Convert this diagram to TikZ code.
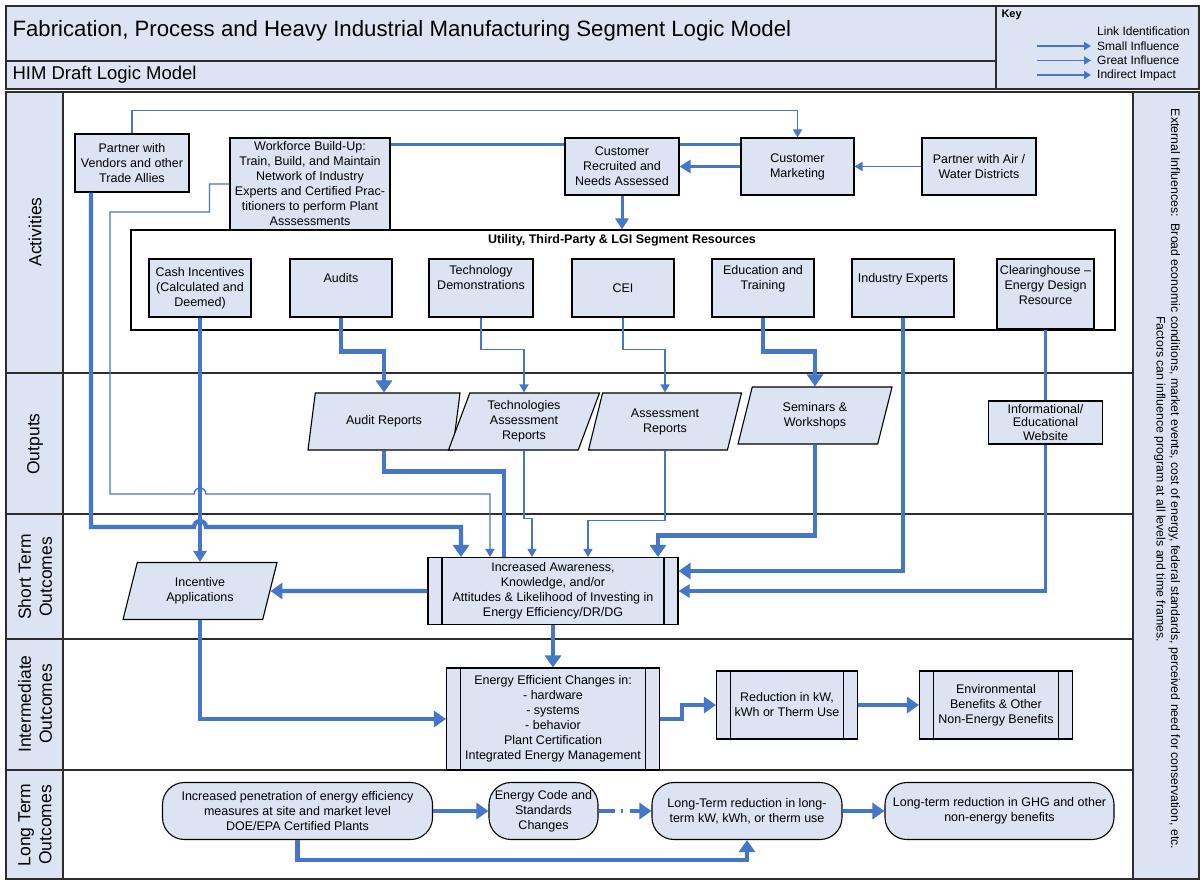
\documentclass[tikz,border=0pt]{standalone}
\usepackage{fontspec}
\setmainfont{Liberation Sans}
\usepackage{tikz}
\usetikzlibrary{shapes.geometric,arrows.meta,positioning,calc}
\definecolor{boxblue}{RGB}{220,227,242}
\definecolor{linkblue}{RGB}{70,118,200}
\definecolor{framegray}{RGB}{45,45,45}
\tikzstyle{block}=[rectangle, draw=black, line width=1.1pt, fill=boxblue, align=center, inner sep=2pt, font=\fontsize{12.5}{15}\selectfont]
\tikzstyle{upper}=[text depth=21pt]
\tikzstyle{process}=[block, path picture={\draw[black, line width=1.1pt] ([xshift=14pt]path picture bounding box.north west) -- ([xshift=14pt]path picture bounding box.south west) ([xshift=-14pt]path picture bounding box.north east) -- ([xshift=-14pt]path picture bounding box.south east);}]
\tikzstyle{output}=[block, trapezium, trapezium left angle=65, trapezium right angle=115, trapezium stretches body]
\tikzstyle{outcome}=[block, rounded corners=22pt]
\tikzstyle{smalllink}=[draw=linkblue, line width=1.4pt, -{Triangle[length=8pt,width=9pt]}]
\tikzstyle{midlink}=[draw=linkblue, line width=3pt, -{Triangle[length=11pt,width=13pt]}]
\tikzstyle{greatlink}=[draw=linkblue, line width=4.3pt, -{Triangle[length=12pt,width=16pt]}]
\tikzstyle{keyarrow}=[draw=linkblue, line width=1.8pt, -{Triangle[length=7pt,width=8pt]}]
\tikzstyle{keytext}=[anchor=west, inner xsep=6pt, inner ysep=1pt, font=\fontsize{12}{14}\selectfont]
\tikzstyle{rowlabel}=[rotate=90, align=center, font=\fontsize{17.5}{21}\selectfont]

\begin{document}
\begin{tikzpicture}[x=1pt, y=-1pt]
	\useasboundingbox (0,0) rectangle (1204,879);
	\draw[framegray, line width=1.4pt, fill=boxblue] (6,6) rectangle (996,61);
	\draw[framegray, line width=1.4pt, fill=boxblue] (6,61) rectangle (996,89);
	\draw[framegray, line width=1.4pt, fill=boxblue] (996,6) rectangle (1199,89);
	\draw[framegray, line width=1.1pt, fill=boxblue] (6,92) rectangle (63,879);
	\draw[framegray, line width=1.1pt, fill=white] (63,92) rectangle (1133,879);
	\draw[framegray, line width=1.1pt, fill=boxblue] (1133,92) rectangle (1199,879);
	\foreach \y in {373,514,639,770}
		\draw[framegray, line width=1.1pt] (6,\y) -- (1133,\y);
	\node[anchor=west, font=\fontsize{22.2}{26}\selectfont] (title) at (9,31) {Fabrication, Process and Heavy Industrial Manufacturing Segment Logic Model};
	\node[anchor=west, font=\fontsize{18.5}{22}\selectfont] (subtitle) at (9,75) {HIM Draft Logic Model};
	\node[anchor=west, font=\bfseries\fontsize{11}{13}\selectfont] (key) at (998,15) {Key};
	\node[keytext] (linkid) at (1091,31) {Link Identification};
	\node[keytext] (smallinf) at (1091,46) {Small Influence};
	\node[keytext] (greatinf) at (1091,60.5) {Great Influence};
	\node[keytext] (indirect) at (1091,75) {Indirect Impact};
	\coordinate (ksmall) at (1037,46);
	\coordinate (kgreat) at (1037,60.5);
	\coordinate (kindirect) at (1037,75);
	\node[rowlabel] (activities) at (35,232) {Activities};
	\node[rowlabel] (outputs) at (35,444) {Outputs};
	\node[rowlabel] (shortterm) at (35,577) {Short Term\\Outcomes};
	\node[rowlabel] (intermediate) at (35,704) {Intermediate\\Outcomes};
	\node[rowlabel] (longterm) at (35,825) {Long Term\\Outcomes};
	\node[rotate=-90, align=center, font=\fontsize{12.3}{14.5}\selectfont] (external) at (1167,479) {External Influences:\ \ Broad economic conditions, market events, cost of energy, federal standards, perceived need for conservation, etc.\\Factors can influence program at all levels and time frames.};

	\node[block, minimum width=114, minimum height=58] (vendors) at (132,163) {Partner with\\Vendors and other\\Trade Allies};
	\node[block, minimum width=160, minimum height=92] (workforce) at (310,184) {Workforce Build-Up:\\Train, Build, and Maintain\\Network of Industry\\Experts and Certified Prac-\\titioners to perform Plant\\Asssessments};
	\node[block, minimum width=114, minimum height=57] (recruited) at (622,166.5) {Customer\\Recruited and\\Needs Assessed};
	\node[block, minimum width=113, minimum height=57] (marketing) at (797.5,166.5) {Customer\\Marketing};
	\node[block, minimum width=114, minimum height=57] (airwater) at (979,166.5) {Partner with Air /\\Water Districts};
	\node[draw=black, line width=1.1pt, fill=white, minimum width=984, minimum height=100] (resources) at (623,280) {};
	\node[font=\bfseries\fontsize{12.5}{14}\selectfont] (restitle) at (622,240.5) {Utility, Third-Party \& LGI Segment Resources};
	\node[block, minimum width=102, minimum height=58] (cash) at (200,288) {Cash Incentives\\(Calculated and\\Deemed)};
	\node[block, upper, minimum width=102, minimum height=58] (audits) at (341,288) {Audits};
	\node[block, upper, minimum width=104, minimum height=58] (techdemo) at (481,288) {Technology\\Demonstrations};
	\node[block, minimum width=102, minimum height=58] (cei) at (623,288) {CEI};
	\node[block, upper, minimum width=102, minimum height=58] (education) at (763,288) {Education and\\Training};
	\node[block, upper, minimum width=102, minimum height=58] (experts) at (903,288) {Industry Experts};
	\node[block, upper, text depth=19pt, minimum width=97, minimum height=70] (clearing) at (1045.5,294) {Clearinghouse --\\Energy Design\\Resource};

	\node[output, minimum width=152, minimum height=57] (auditrep) at (384,421.5) {Audit Reports};
	\node[output, minimum width=151, minimum height=57] (techrep) at (524,421.5) {Technologies\\Assessment\\Reports};
	\node[output, minimum width=153, minimum height=57] (assessrep) at (665,421.5) {Assessment\\Reports};
	\node[output, minimum width=154, minimum height=57] (seminars) at (815,415.5) {Seminars \&\\Workshops};
	\node[block, minimum width=114, minimum height=43, font=\fontsize{12.5}{13.5}\selectfont] (website) at (1045.5,422.5) {Informational/\\Educational\\Website};

	\node[output, minimum width=154, minimum height=57] (incentive) at (200,591) {Incentive\\Applications};
	\node[process, minimum width=250, minimum height=67] (awareness) at (553,591) {Increased Awareness,\\Knowledge, and/or\\Attitudes \& Likelihood of Investing in\\Energy Efficiency/DR/DG};

	\node[process, minimum width=213, minimum height=102] (changes) at (553,719) {Energy Efficient Changes in:\\- hardware\\- systems\\- behavior\\Plant Certification\\Integrated Energy Management};
	\node[process, minimum width=141, minimum height=68] (reduction) at (787,705) {Reduction in kW,\\kWh or Therm Use};
	\node[process, minimum width=153, minimum height=68] (environment) at (996,705) {Environmental\\Benefits \& Other\\Non-Energy Benefits};

	\node[outcome, minimum width=270, minimum height=57] (penetration) at (297.5,811) {Increased penetration of energy efficiency\\measures at site and market level\\DOE/EPA Certified Plants};
	\node[outcome, minimum width=109, minimum height=57] (code) at (543.5,811) {Energy Code and\\Standards\\Changes};
	\node[outcome, minimum width=190, minimum height=57] (longkw) at (747,811) {Long-Term reduction in long-\\term kW, kWh, or therm use};
	\node[outcome, minimum width=229, minimum height=57] (ghg) at (999.5,811) {Long-term reduction in GHG and other\\non-energy benefits};

	\path
	(ksmall) edge[keyarrow] (ksmall -| smallinf.west)
	(kgreat) edge[keyarrow] (kgreat -| greatinf.west)
	(kindirect) edge[keyarrow] (kindirect -| indirect.west);
	\draw[smalllink] (vendors.north) -- ++(0,-23) -| (marketing.north);
	\draw[midlink, -] (workforce.east |- 0,144) -- (recruited.west |- 0,144);
	\draw[midlink, -] (recruited.east |- 0,144) -- (marketing.west |- 0,144);
	\path
	(marketing) edge[midlink] (recruited)
	(recruited) edge[midlink] (recruited |- resources.north)
	(airwater) edge[smalllink, line width=1.8pt] (marketing);
	\draw[smalllink] (workforce.west) -- ++(-20,0) -- ++(0,28) -- (110,212) -- (110,494) -- (194,494) arc(180:360:6) -| (awareness.north -| 490,0);
	\draw[greatlink] (vendors.south -| 91,0) -- (91,527) -- (194,527) arc(180:360:6) -| (awareness.north -| 461,0);
	\path (cash) edge[midlink, line width=3.6pt] (incentive);
	\draw[greatlink] (audits.south) -- ++(0,34) -| (auditrep.north);
	\draw[smalllink] (techdemo.south) -- ++(0,32) -| (techrep.north);
	\draw[smalllink] (cei.south) -- ++(0,32) -| (assessrep.north);
	\draw[greatlink] (education.south) -- ++(0,34) -| (seminars.north);
	\draw[greatlink] (experts.south) |- (awareness.east |- 0,571);
	\draw[midlink, -, line width=3.6pt] (clearing.south) -- (website.north);
	\draw[midlink, line width=3.6pt] (website.south) |- (awareness.east |- 0,591);
	\draw[greatlink, -] (auditrep.south) -- ++(0,21) -| (awareness.north -| 504,0);
	\draw[smalllink] (techrep.south) -- ++(0,68) -| (awareness.north -| 532,0);
	\draw[smalllink] (assessrep.south) -- ++(0,70) -| (awareness.north -| 588,0);
	\draw[greatlink] (seminars.south) -- ++(0,91) -| (awareness.north -| 658,0);
	\path
	(awareness) edge[greatlink] (incentive)
	(awareness) edge[greatlink] (changes);
	\draw[greatlink] (incentive.south) |- (changes.west);
	\draw[greatlink] (changes.east) -- ++(22,0) |- (reduction.west);
	\path
	(reduction) edge[greatlink] (environment)
	(penetration) edge[greatlink] (code)
	(longkw) edge[greatlink] (ghg)
	(code) edge[greatlink, dash pattern=on 16pt off 6pt on 2pt off 7pt] (longkw);
	\draw[greatlink] (penetration.south) -- ++(0,20) -| (longkw.south);
\end{tikzpicture}
\end{document}
